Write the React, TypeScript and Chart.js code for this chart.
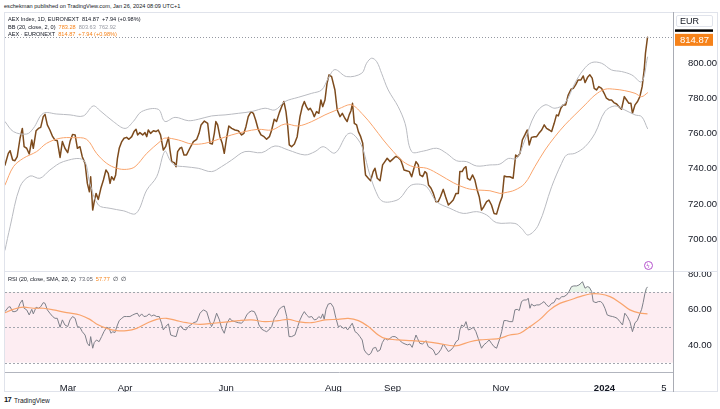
import React, { useEffect, useRef } from 'react';
import { Chart, registerables } from 'chart.js';

Chart.register(...registerables);

const FONT = '"Liberation Sans", Arial, sans-serif';

// ---- time axis (trading-day index) ----
const tickDays = [24.7, 47.1, 86.7, 128.8, 152.0, 194.5, 235.1, 258.4];
const tickLabels = ['Mar', 'Apr', 'Jun', 'Aug', 'Sep', 'Nov', '2024', '5'];
const priceTicks = [700, 720, 740, 760, 780, 800];
const rsiTicks = [40, 60, 80];
const rsiLevels = [70, 50, 30];
const lastPrice = 814.87;

// ---- AEX close ----
const priceDays = [
  0.0, 1.3, 2.0, 3.0, 3.9, 4.8, 5.9, 6.8, 7.5, 8.5, 9.5, 10.5, 11.1, 12.2, 13.1, 14.0, 15.0, 15.7, 16.6, 17.6,
  18.7, 19.6, 20.5, 21.6, 22.5, 23.5, 24.6, 25.5, 26.5, 27.5, 28.4, 29.4, 30.3, 31.4, 32.3, 33.1, 33.6, 34.4, 35.0, 35.7,
  36.6, 37.6, 38.6, 39.6, 40.5, 41.2, 41.8, 42.7, 43.4, 44.1, 44.8, 45.8, 46.7, 47.7, 48.6, 49.7, 50.6, 51.4, 52.0, 52.9,
  54.0, 54.9, 55.6, 56.2, 57.1, 58.2, 59.2, 60.1, 61.0, 62.1, 63.0, 64.1, 64.7, 65.4, 66.4, 67.1, 67.7, 68.6, 69.3, 70.2,
  71.2, 72.5, 73.9, 75.2, 76.1, 76.9, 78.2, 79.5, 80.4, 81.3, 82.1, 82.7, 83.4, 84.3, 85.2, 86.0, 86.9, 87.8, 88.9, 90.2,
  91.5, 92.8, 93.7, 94.5, 95.4, 96.5, 97.4, 98.3, 99.3, 100.4, 101.6, 102.6, 103.7, 104.6, 105.6, 106.5, 107.6, 108.5, 109.4, 110.2,
  110.9, 111.5, 112.4, 113.5, 114.6, 115.7, 116.6, 117.4, 118.2, 119.0, 119.7, 120.5, 121.3, 122.2, 123.1, 123.9, 124.6, 125.5, 126.3, 127.1,
  128.1, 129.4, 130.3, 131.4, 132.3, 133.3, 134.2, 135.0, 135.7, 136.3, 137.0, 137.9, 138.6, 139.5, 140.3, 140.8, 141.4, 142.5, 143.4, 144.4,
  145.1, 146.0, 147.1, 148.1, 149.0, 149.9, 151.0, 152.0, 153.2, 154.2, 155.2, 155.9, 156.5, 157.5, 158.6, 159.5, 160.4, 161.2, 162.1, 162.7,
  163.8, 164.7, 165.4, 166.1, 167.1, 168.0, 169.0, 169.9, 170.8, 171.9, 172.8, 173.9, 174.8, 175.8, 176.9, 177.8, 178.4, 179.3, 180.0, 180.8,
  181.4, 182.4, 183.4, 184.3, 185.2, 186.0, 186.9, 187.8, 188.9, 189.8, 190.8, 191.8, 192.8, 194.1, 195.0, 195.8, 196.7, 198.0, 199.3, 200.3,
  201.0, 202.0, 202.9, 203.9, 204.8, 205.6, 206.5, 207.6, 208.5, 209.4, 210.5, 211.5, 212.4, 213.5, 214.4, 215.4, 216.3, 217.0, 218.0, 218.9,
  219.9, 220.9, 222.0, 222.9, 223.8, 224.8, 225.9, 226.8, 227.5, 228.5, 229.4, 230.3, 231.1, 232.0, 232.9, 234.0, 235.0, 235.9, 236.9, 237.9,
  238.8, 239.9, 240.8, 241.8, 242.9, 243.8, 244.7, 245.5, 246.1, 247.1, 248.1, 249.0, 249.9, 250.7, 251.2, 252.0,
];
const priceClose = [
  742.2, 748.8, 750.3, 745.0, 744.6, 746.9, 757.4, 763.0, 752.6, 751.7, 748.4, 756.4, 751.7, 761.7, 763.0, 763.6, 769.7, 771.0, 765.0, 762.1,
  758.3, 756.4, 756.0, 746.5, 755.5, 751.7, 749.2, 755.5, 759.6, 759.3, 751.7, 752.6, 746.9, 743.1, 731.7, 726.9, 735.5, 716.5, 721.3, 726.0,
  722.6, 728.9, 733.6, 739.3, 737.4, 731.7, 735.5, 733.6, 736.5, 746.0, 751.7, 755.5, 757.4, 757.9, 756.8, 758.3, 761.2, 762.5, 759.3, 760.6,
  759.3, 760.6, 758.3, 762.1, 760.2, 761.7, 761.2, 762.1, 759.3, 750.7, 752.6, 757.9, 750.7, 744.1, 743.5, 741.2, 749.8, 751.7, 752.2, 747.9,
  747.9, 751.7, 755.5, 756.8, 760.2, 765.0, 767.2, 765.9, 754.5, 754.1, 760.2, 766.9, 765.0, 758.3, 754.5, 748.8, 757.4, 764.4, 763.0, 762.1,
  761.7, 759.3, 760.2, 764.0, 769.7, 772.6, 771.6, 767.8, 762.5, 759.3, 758.3, 756.8, 758.3, 762.1, 768.2, 766.9, 772.0, 775.4, 778.3, 772.6,
  764.0, 753.6, 752.6, 754.1, 758.3, 769.7, 775.4, 778.3, 775.4, 773.5, 774.5, 772.6, 769.7, 772.6, 771.6, 779.2, 775.4, 779.2, 788.7, 793.5,
  792.5, 784.9, 773.5, 769.7, 771.6, 768.8, 766.9, 770.7, 773.1, 777.3, 765.9, 765.0, 761.2, 758.3, 754.5, 745.0, 736.5, 734.6, 733.2, 738.4,
  740.3, 734.6, 733.2, 742.2, 744.1, 746.0, 744.1, 745.4, 747.0, 746.5, 745.0, 742.2, 739.3, 738.9, 738.4, 735.5, 740.3, 744.1, 742.2, 736.5,
  735.5, 738.4, 737.4, 730.8, 728.9, 726.0, 721.3, 721.3, 724.1, 728.3, 724.1, 719.4, 720.7, 722.2, 726.0, 726.0, 738.4, 738.4, 740.3, 741.2,
  734.6, 733.6, 736.5, 733.6, 727.9, 724.1, 716.5, 718.4, 721.3, 722.2, 719.4, 714.6, 714.2, 720.7, 724.1, 735.9, 735.5, 735.5, 734.6, 747.9,
  746.9, 748.8, 756.4, 759.3, 762.1, 753.6, 757.9, 758.3, 758.3, 760.2, 762.1, 765.0, 763.0, 762.1, 761.2, 765.9, 770.7, 770.1, 774.5, 776.4,
  776.4, 782.0, 785.3, 785.8, 787.8, 790.6, 790.6, 792.9, 789.1, 792.1, 793.5, 791.6, 785.8, 784.9, 786.8, 785.8, 783.0, 780.2, 779.2, 779.2,
  777.7, 776.9, 775.4, 773.9, 781.1, 779.2, 777.3, 777.3, 771.6, 776.4, 778.3, 781.1, 786.8, 796.3, 805.8, 814.87,
];

// ---- Bollinger Bands (20, 2) ----
const bbUpperDays = [
  0.0, 3.3, 8.5, 11.1, 15.0, 20.3, 25.5, 30.7, 34.6, 37.3, 42.5, 47.1, 50.3, 53.6, 60.1, 62.7, 66.7, 71.9, 75.8, 81.0,
  86.3, 91.5, 96.7, 102.0, 105.9, 109.8, 115.0, 120.3, 124.2, 126.8, 129.4, 134.0, 139.9, 141.8, 143.8, 145.8, 147.7, 150.3, 154.2, 156.9,
  159.5, 164.1, 169.3, 173.2, 177.1, 181.0, 185.0, 190.2, 194.1, 197.4, 200.7, 203.9, 207.8, 211.8, 215.7, 219.6, 223.5, 226.8, 230.1, 234.0,
  237.9, 241.8, 245.8, 249.7, 252.0,
];
const bbUpper = [
  766.9, 761.2, 759.8, 763.0, 771.6, 771.2, 770.7, 770.1, 775.8, 773.1, 766.9, 763.0, 766.9, 772.6, 773.9, 767.0, 769.3, 767.4, 768.2, 770.1,
  770.7, 771.6, 772.6, 774.5, 773.5, 778.3, 780.7, 783.0, 784.9, 791.6, 796.5, 792.5, 794.4, 800.1, 803.0, 801.0, 794.4, 784.9, 775.4, 765.9,
  749.8, 750.1, 751.7, 748.8, 744.6, 744.1, 741.6, 742.2, 742.7, 745.9, 745.9, 756.4, 770.7, 776.4, 774.5, 777.3, 788.7, 796.3, 800.5, 800.1,
  796.3, 795.4, 793.5, 789.6, 803.63,
];
const bbBasisDays = [
  0.0, 3.3, 7.2, 12.4, 16.3, 21.6, 26.8, 32.0, 35.9, 39.9, 43.8, 47.7, 51.0, 55.6, 60.8, 62.7, 68.0, 73.2, 78.4, 83.7,
  88.9, 94.1, 99.3, 104.6, 109.8, 115.0, 120.3, 125.5, 129.4, 131.4, 135.9, 140.5, 144.4, 148.4, 152.3, 156.2, 160.1, 165.4, 170.6, 175.8,
  181.0, 185.6, 190.2, 194.1, 196.1, 200.0, 203.9, 207.8, 211.8, 215.7, 219.6, 223.5, 227.5, 231.4, 235.3, 239.2, 243.1, 247.1, 249.7, 252.0,
];
const bbBasis = [
  730.8, 741.2, 746.0, 749.8, 754.5, 757.4, 757.7, 756.8, 748.8, 743.1, 740.3, 739.7, 741.2, 748.8, 755.5, 757.5, 756.4, 754.1, 754.5, 756.8,
  759.3, 761.2, 762.5, 762.1, 765.5, 764.4, 766.9, 770.7, 773.1, 774.5, 776.4, 770.7, 764.0, 756.4, 749.8, 744.1, 741.2, 740.3, 736.5, 732.1,
  728.9, 727.9, 727.5, 726.0, 726.4, 727.9, 731.7, 741.2, 750.7, 758.3, 765.0, 770.7, 776.4, 782.0, 785.3, 785.3, 784.5, 783.0, 781.1, 783.28,
];
const bbLowerDays = [
  0.0, 2.0, 5.9, 9.8, 13.7, 17.6, 22.9, 30.7, 33.3, 36.6, 41.2, 46.4, 51.4, 55.6, 59.5, 62.7, 64.7, 66.7, 70.6, 75.8,
  81.0, 84.9, 88.9, 94.1, 100.7, 105.9, 111.1, 117.6, 121.6, 124.8, 129.4, 134.0, 135.9, 138.6, 140.5, 143.1, 146.4, 148.4, 151.6, 154.9,
  158.8, 162.1, 165.4, 169.3, 174.5, 179.7, 185.0, 188.9, 192.8, 200.0, 202.6, 205.2, 209.2, 214.4, 218.3, 220.3, 223.5, 227.5, 231.4, 235.3,
  239.2, 243.1, 247.1, 249.7, 252.0,
];
const bbLower = [
  693.7, 707.0, 729.8, 735.9, 734.6, 739.3, 744.1, 745.0, 731.7, 719.4, 717.5, 716.1, 714.6, 727.9, 735.5, 750.0, 745.0, 742.0, 741.2, 740.3,
  738.4, 741.2, 745.0, 749.8, 749.2, 753.0, 750.7, 747.9, 749.8, 752.6, 749.0, 759.3, 760.2, 756.4, 750.7, 736.5, 724.1, 721.3, 721.3, 723.2,
  730.2, 731.3, 729.8, 721.3, 717.5, 714.6, 715.6, 713.7, 709.3, 708.9, 706.1, 702.3, 708.0, 729.8, 743.1, 747.9, 748.8, 752.6, 760.2, 772.6,
  775.8, 773.5, 770.7, 769.7, 762.92,
];

// ---- RSI (20) ----
const rsiDays = [
  0.0, 1.3, 2.0, 3.0, 3.9, 4.8, 5.9, 6.8, 7.5, 8.5, 9.5, 10.5, 11.1, 12.2, 13.1, 14.0, 15.0, 15.7, 16.6, 17.6,
  18.7, 19.6, 20.5, 21.6, 22.5, 23.5, 24.6, 25.5, 26.5, 27.5, 28.4, 29.4, 30.3, 31.4, 32.3, 33.1, 33.6, 34.4, 35.0, 35.9,
  36.9, 37.9, 38.8, 39.9, 40.8, 41.6, 42.2, 43.1, 44.1, 44.8, 45.8, 46.7, 47.7, 49.0, 50.1, 51.0, 51.9, 52.7, 53.6, 54.5,
  55.6, 56.5, 57.5, 58.4, 59.5, 60.5, 61.4, 62.1, 63.0, 64.1, 65.0, 66.0, 67.1, 68.0, 68.9, 69.9, 71.0, 71.9, 72.8, 73.9,
  75.2, 76.5, 77.8, 79.1, 80.1, 81.0, 82.0, 83.0, 84.1, 85.0, 86.0, 87.0, 88.2, 88.9, 90.2, 91.5, 92.8, 93.9, 94.8, 95.7,
  96.7, 97.8, 98.7, 99.6, 100.7, 101.7, 102.6, 103.5, 104.6, 105.6, 106.5, 107.5, 108.5, 109.5, 110.5, 111.4, 112.4, 113.7, 114.8, 115.7,
  116.6, 117.4, 118.3, 119.2, 120.3, 121.3, 122.2, 123.1, 123.9, 124.6, 125.2, 125.9, 126.8, 127.8, 128.8, 129.7, 130.7, 131.6, 132.7, 133.6,
  134.4, 135.3, 136.2, 137.3, 138.2, 139.2, 140.1, 140.9, 141.8, 142.7, 143.5, 144.4, 145.4, 146.1, 147.1, 148.0, 149.0, 150.1, 151.0, 151.9,
  153.0, 154.0, 154.9, 155.8, 156.9, 157.9, 158.8, 159.7, 160.5, 161.2, 161.8, 162.7, 163.7, 164.4, 165.1, 166.0, 167.1, 168.0, 168.9, 169.9,
  171.0, 171.9, 172.8, 173.9, 174.9, 175.8, 176.9, 177.8, 178.4, 179.1, 180.0, 180.8, 181.7, 182.6, 183.7, 184.7, 185.6, 186.9, 187.8, 188.9,
  189.9, 190.8, 191.8, 192.8, 193.9, 194.8, 195.7, 196.7, 198.0, 199.1, 200.0, 200.9, 201.7, 202.6, 203.5, 204.6, 205.2, 205.9, 206.5, 207.5,
  208.5, 209.5, 210.5, 211.4, 212.4, 213.3, 214.4, 215.3, 216.3, 217.4, 218.3, 219.2, 220.3, 221.2, 222.2, 223.1, 224.2, 225.1, 225.9, 226.5,
  227.5, 228.4, 229.2, 230.1, 230.7, 231.8, 232.7, 233.6, 234.4, 235.3, 236.2, 237.3, 238.3, 239.2, 240.1, 241.2, 242.2, 243.1, 244.1, 245.1,
  246.1, 247.1, 248.0, 248.8, 249.7, 250.3, 251.0, 251.5, 252.0,
];
const rsiValues = [
  59.0, 61.5, 61.8, 59.0, 59.0, 59.6, 63.7, 65.6, 60.9, 60.0, 57.1, 60.3, 57.7, 61.5, 60.9, 61.8, 64.1, 63.7, 60.0, 58.1,
  56.2, 55.2, 55.2, 50.1, 54.3, 51.4, 50.5, 54.3, 56.2, 55.2, 50.5, 50.1, 47.6, 45.7, 41.0, 39.5, 44.8, 38.2, 41.4, 42.9,
  41.9, 44.8, 47.6, 50.1, 49.5, 46.7, 47.6, 47.1, 51.4, 53.9, 55.2, 56.2, 56.2, 56.2, 57.1, 57.7, 58.1, 56.2, 57.7, 56.2,
  56.5, 57.7, 56.5, 57.1, 56.2, 56.2, 52.4, 48.6, 50.5, 52.0, 45.7, 45.2, 44.8, 49.5, 50.9, 49.0, 48.6, 50.5, 51.4, 52.7,
  53.3, 58.1, 60.0, 59.0, 54.3, 50.5, 53.3, 58.1, 54.3, 49.5, 46.7, 52.4, 55.2, 53.9, 53.3, 52.7, 52.4, 54.3, 57.1, 58.6,
  59.4, 59.0, 56.2, 51.4, 49.0, 48.2, 47.6, 48.6, 50.5, 55.2, 57.1, 60.3, 61.5, 62.2, 56.2, 44.8, 44.8, 45.7, 50.5, 54.3,
  57.1, 59.0, 57.1, 55.8, 56.2, 54.3, 54.6, 56.2, 55.2, 57.7, 54.6, 60.3, 63.3, 63.7, 61.5, 55.8, 50.5, 50.9, 49.5, 50.1,
  48.6, 50.5, 52.4, 47.6, 46.7, 44.8, 42.9, 37.2, 35.3, 34.4, 35.3, 38.2, 38.7, 36.3, 37.2, 41.4, 43.8, 42.9, 43.8, 44.8,
  44.8, 43.8, 42.5, 41.4, 40.6, 40.1, 40.6, 38.7, 42.5, 45.7, 43.8, 41.0, 40.6, 41.4, 42.5, 39.1, 38.2, 37.2, 34.4, 35.3,
  37.6, 40.6, 38.7, 36.3, 37.2, 38.7, 41.9, 42.9, 48.6, 51.4, 50.5, 53.3, 48.6, 49.0, 50.1, 47.6, 43.8, 38.2, 40.1, 41.4,
  42.9, 41.0, 39.1, 38.2, 42.9, 47.6, 53.9, 53.9, 53.3, 53.3, 60.0, 60.3, 59.6, 64.7, 65.6, 65.6, 66.6, 60.9, 63.3, 62.2,
  62.8, 62.8, 63.7, 64.7, 62.8, 61.8, 63.7, 64.1, 66.6, 66.0, 67.5, 67.5, 68.5, 70.4, 73.2, 73.6, 73.6, 74.1, 75.1, 76.0,
  72.3, 73.2, 72.8, 70.4, 64.7, 64.1, 64.7, 64.7, 63.7, 60.9, 57.1, 56.5, 56.2, 55.8, 55.2, 53.3, 51.4, 58.1, 56.2, 53.3,
  47.6, 52.7, 53.9, 57.1, 60.3, 64.1, 69.4, 72.0, 73.05,
];
const rsiSmaDays = [
  0.0, 3.3, 7.2, 11.1, 15.0, 19.0, 24.2, 29.4, 33.3, 35.9, 39.9, 43.8, 47.7, 51.6, 55.6, 59.5, 63.4, 67.3, 71.2, 76.5,
  81.7, 88.2, 91.5, 96.7, 102.0, 107.2, 111.1, 115.0, 120.3, 125.5, 130.7, 134.6, 138.6, 142.5, 146.4, 149.0, 154.2, 159.5, 164.7, 169.9,
  176.5, 182.4, 186.3, 190.2, 194.1, 198.0, 202.0, 205.9, 209.8, 213.7, 217.6, 221.6, 225.5, 229.4, 233.3, 237.3, 241.2, 245.1, 249.0, 252.0,
];
const rsiSma = [
  58.4, 60.3, 61.5, 60.9, 60.9, 60.0, 58.4, 57.1, 54.6, 52.0, 49.5, 48.2, 48.2, 49.5, 52.4, 54.6, 55.2, 53.9, 52.7, 51.8,
  52.4, 53.3, 53.9, 54.3, 53.3, 53.9, 54.6, 53.3, 52.7, 54.3, 54.6, 55.2, 53.9, 50.5, 45.7, 43.8, 42.9, 42.5, 41.9, 41.0,
  39.5, 41.9, 42.9, 43.3, 43.8, 45.7, 46.7, 50.5, 54.6, 60.0, 63.7, 65.6, 67.5, 69.0, 69.0, 67.5, 64.1, 60.0, 58.1, 57.77,
];

const pts = (xs: number[], ys: number[]) => xs.map((x, i) => ({ x, y: ys[i] }));

const AXIS_W = 45;
const fixY = (s: any) => {
  s.width = AXIS_W;
  s.paddingTop = 0;
  s.paddingBottom = 0;
  s.paddingLeft = 0;
  s.paddingRight = 0;
};

const C_DARK = '#131722';
const C_ORANGE = '#f68219';
const C_BASIS = '#f9a46c';

export default function App() {
  const mainRef = useRef<HTMLCanvasElement>(null);
  const rsiRef = useRef<HTMLCanvasElement>(null);

  useEffect(() => {
    if (!mainRef.current || !rsiRef.current) return;

    const lastPricePlugin = {
      id: 'lastPrice',
      afterDraw(chart: any) {
        const { ctx, chartArea, scales } = chart;
        const y = scales.y.getPixelForValue(lastPrice);
        ctx.save();
        ctx.strokeStyle = '#9598a1';
        ctx.lineWidth = 1;
        ctx.setLineDash([1, 2]);
        ctx.beginPath();
        ctx.moveTo(chartArea.left, Math.round(y) + 0.5);
        ctx.lineTo(chartArea.right, Math.round(y) + 0.5);
        ctx.stroke();
        ctx.setLineDash([]);
        const cy = y + 2.5;
        const x0 = chartArea.right + 2;
        ctx.fillStyle = '#000000';
        ctx.fillRect(x0, cy - 10.5, 38, 2.5);
        ctx.fillStyle = C_ORANGE;
        ctx.fillRect(x0, cy - 6, 38, 12);
        ctx.fillStyle = '#ffffff';
        ctx.font = `9.5px ${FONT}`;
        ctx.textBaseline = 'middle';
        ctx.textAlign = 'left';
        ctx.fillText(lastPrice.toFixed(2), x0 + 5, cy + 0.5);
        ctx.restore();
      },
    };

    const main = new Chart(mainRef.current, {
      type: 'line',
      data: {
        datasets: [
          { data: pts(bbUpperDays, bbUpper), borderColor: '#b9bbc1', borderWidth: 1, pointRadius: 0, tension: 0.35 },
          { data: pts(bbLowerDays, bbLower), borderColor: '#b9bbc1', borderWidth: 1, pointRadius: 0, tension: 0.35 },
          { data: pts(bbBasisDays, bbBasis), borderColor: C_BASIS, borderWidth: 1, pointRadius: 0, tension: 0.35 },
          { data: pts(priceDays, priceClose), borderColor: '#7d4b1d', borderWidth: 1.5, pointRadius: 0, tension: 0 },
        ],
      },
      options: {
        responsive: false,
        animation: false,
        events: [],
        layout: { padding: 0 },
        plugins: { legend: { display: false }, tooltip: { enabled: false } },
        elements: { line: { borderJoinStyle: 'round', borderCapStyle: 'round' } },
        scales: {
          x: { type: 'linear', min: 0, max: 262, display: false },
          y: {
            position: 'right',
            min: 681.8,
            max: 829.3,
            afterBuildTicks: (s: any) => {
              s.ticks = priceTicks.map((v) => ({ value: v }));
            },
            afterFit: fixY,
            grid: { display: false },
            border: { display: false },
            ticks: {
              padding: 7,
              color: C_DARK,
              font: { family: FONT, size: 9.5 },
              callback: (v: any) => Number(v).toFixed(2),
            },
          },
        },
      } as any,
      plugins: [lastPricePlugin],
    });

    const bandPlugin = {
      id: 'rsiBand',
      beforeDatasetsDraw(chart: any) {
        const { ctx, chartArea, scales } = chart;
        const y70 = scales.y.getPixelForValue(70);
        const y30 = scales.y.getPixelForValue(30);
        ctx.save();
        ctx.fillStyle = '#fdedf2';
        ctx.fillRect(chartArea.left, y70, chartArea.right - chartArea.left, y30 - y70);
        ctx.strokeStyle = '#a3a6af';
        ctx.lineWidth = 1;
        ctx.setLineDash([2, 2]);
        rsiLevels.forEach((lv) => {
          const y = Math.round(scales.y.getPixelForValue(lv)) + 0.5;
          ctx.beginPath();
          ctx.moveTo(chartArea.left, y);
          ctx.lineTo(chartArea.right, y);
          ctx.stroke();
        });
        ctx.restore();
      },
    };

    const rsi = new Chart(rsiRef.current, {
      type: 'line',
      data: {
        datasets: [
          { data: pts(rsiSmaDays, rsiSma), borderColor: C_BASIS, borderWidth: 1.2, pointRadius: 0, tension: 0.35 },
          {
            data: pts(rsiDays, rsiValues),
            borderColor: '#7e8089',
            borderWidth: 1,
            pointRadius: 0,
            tension: 0,
            fill: { target: { value: 70 }, above: 'rgba(76,175,80,0.12)', below: 'rgba(0,0,0,0)' },
          },
        ],
      },
      options: {
        responsive: false,
        animation: false,
        events: [],
        layout: { padding: 0 },
        plugins: { legend: { display: false }, tooltip: { enabled: false } },
        scales: {
          x: {
            type: 'linear',
            min: 0,
            max: 262,
            position: 'bottom',
            afterBuildTicks: (s: any) => {
              s.ticks = tickDays.map((v) => ({ value: v }));
            },
            afterFit: (s: any) => {
              s.height = 20;
              s.paddingLeft = 0;
              s.paddingRight = 0;
              s.paddingTop = 0;
              s.paddingBottom = 0;
            },
            grid: { display: false },
            border: { display: true, color: '#b2b5be', width: 1 },
            ticks: {
              autoSkip: false,
              maxRotation: 0,
              minRotation: 0,
              padding: 3,
              color: C_DARK,
              font: (c: any) => ({
                family: FONT,
                size: 9.5,
                weight: c.tick && c.tick.label === '2024' ? 'bold' : 'normal',
              }),
              callback: (v: any) => {
                const i = tickDays.indexOf(Number(v));
                return i >= 0 ? tickLabels[i] : '';
              },
            },
          },
          y: {
            position: 'right',
            min: 24.7,
            max: 81.5,
            afterBuildTicks: (s: any) => {
              s.ticks = rsiTicks.map((v) => ({ value: v }));
            },
            afterFit: fixY,
            grid: { display: false },
            border: { display: false },
            ticks: {
              padding: 7,
              color: C_DARK,
              font: { family: FONT, size: 9.5 },
              callback: (v: any) => Number(v).toFixed(2),
            },
          },
        },
      } as any,
      plugins: [bandPlugin],
    });

    return () => {
      main.destroy();
      rsi.destroy();
    };
  }, []);

  const abs = (o: React.CSSProperties): React.CSSProperties => ({ position: 'absolute', ...o });
  const legendStyle = (top: number): React.CSSProperties =>
    abs({ left: 8, top, fontFamily: FONT, fontSize: 5.6, lineHeight: '7px', color: C_DARK, whiteSpace: 'nowrap' });
  const gap = { marginLeft: 3 };

  return (
    <div style={abs({ left: 0, top: 0, width: 720, height: 409, background: '#ffffff', overflow: 'hidden' })}>
      <div style={abs({ left: 4, top: 2.5, fontFamily: FONT, fontSize: 5.6, lineHeight: '7px', color: C_DARK, whiteSpace: 'nowrap' })}>
        eschekman published on TradingView.com, Jan 26, 2024 08:09 UTC+1
      </div>
      <div style={abs({ left: 4, top: 12, width: 714, height: 380, border: '1px solid #e0e3eb', boxSizing: 'border-box' })} />

      <canvas ref={mainRef} width={713} height={259} style={abs({ left: 5, top: 12, width: 713, height: 259 })} />
      <canvas ref={rsiRef} width={713} height={120} style={abs({ left: 5, top: 272, width: 713, height: 120 })} />

      <div style={abs({ left: 4, top: 271, width: 714, height: 1, background: '#e0e3eb' })} />
      <div style={abs({ left: 673, top: 12, width: 1, height: 380, background: '#a9acb4' })} />

      <div style={legendStyle(15.8)}>
        <span>AEX Index, 1D, EURONEXT</span>
        <span style={gap}>814.87</span>
        <span style={gap}>+7.94 (+0.98%)</span>
      </div>
      <div style={legendStyle(23.8)}>
        <span>BB (20, close, 2, 0)</span>
        <span style={{ ...gap, color: C_ORANGE }}>783.28</span>
        <span style={{ ...gap, color: '#9598a1' }}>803.63</span>
        <span style={{ ...gap, color: '#9598a1' }}>762.92</span>
      </div>
      <div style={legendStyle(31.2)}>
        <span>AEX · EURONEXT</span>
        <span style={{ ...gap, color: C_ORANGE }}>814.87</span>
        <span style={{ ...gap, color: C_ORANGE }}>+7.94 (+0.98%)</span>
      </div>
      <div style={legendStyle(276.3)}>
        <span>RSI (20, close, SMA, 20, 2)</span>
        <span style={{ ...gap, color: '#5d606b' }}>73.05</span>
        <span style={{ ...gap, color: C_ORANGE }}>57.77</span>
        <span style={gap}>∅</span>
        <span style={gap}>∅</span>
      </div>

      <div
        style={abs({
          left: 676,
          top: 15,
          width: 37,
          height: 11.5,
          border: '1px solid #e0e3eb',
          borderRadius: 2,
          boxSizing: 'border-box',
          fontFamily: FONT,
          fontSize: 9,
          lineHeight: '10px',
          color: C_DARK,
          paddingLeft: 3,
        })}
      >
        EUR
      </div>

      <div
        style={abs({
          left: 643.5,
          top: 261.2,
          width: 9,
          height: 9,
          border: '1px solid #b452cd',
          borderRadius: '50%',
          boxSizing: 'border-box',
          color: '#b452cd',
          fontSize: 6,
          lineHeight: '7px',
          textAlign: 'center',
          fontFamily: '"DejaVu Sans", sans-serif',
        })}
      >
        ϟ
      </div>

      <div style={abs({ left: 4, top: 396, fontFamily: FONT, fontWeight: 'bold', fontSize: 7.5, lineHeight: '8px', color: C_DARK, letterSpacing: -0.6 })}>
        17
      </div>
      <div style={abs({ left: 14, top: 396.5, fontFamily: FONT, fontSize: 6.5, lineHeight: '8px', color: C_DARK, whiteSpace: 'nowrap' })}>
        TradingView
      </div>
    </div>
  );
}
